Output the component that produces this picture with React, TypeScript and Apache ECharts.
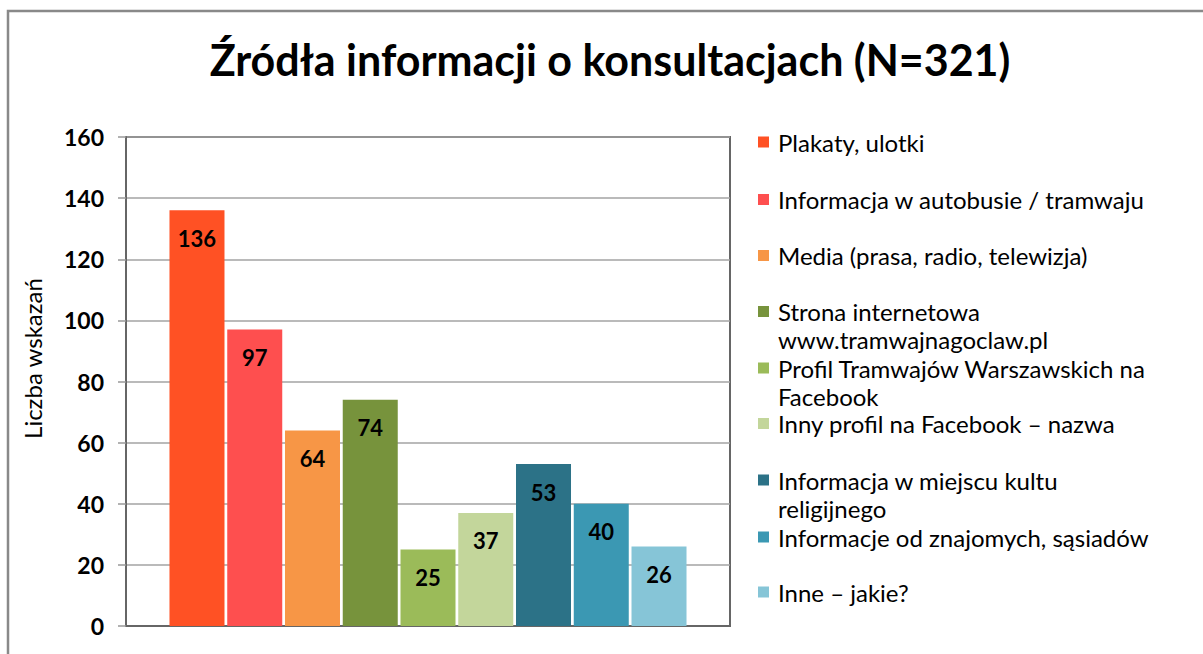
import React, { useEffect, useRef } from "react";
import * as echarts from "echarts";

const TITLE = "Źródła informacji o konsultacjach (N=321)";
const Y_NAME = "Liczba wskazań";
const categories = [
  "Plakaty, ulotki",
  "Informacja w autobusie / tramwaju",
  "Media (prasa, radio, telewizja)",
  "Strona internetowa\nwww.tramwajnagoclaw.pl",
  "Profil Tramwajów Warszawskich na\nFacebook",
  "Inny profil na Facebook – nazwa",
  "Informacja w miejscu kultu\nreligijnego",
  "Informacje od znajomych, sąsiadów",
  "Inne – jakie?",
];
const values = [136, 97, 64, 74, 25, 37, 53, 40, 26];
const colors = [
  "#FF5124",
  "#FE4F4F",
  "#F79646",
  "#77933C",
  "#9BBB59",
  "#C3D69B",
  "#2C7287",
  "#3B98B3",
  "#86C5D7",
];
const Y_MIN = 0;
const Y_MAX = 160;
const Y_STEP = 20;

// layout of the legend rows (centre of first text line, page px)
const legendRowY = [142, 199.5, 255.5, 311.5, 368, 423.5, 480, 537, 592];
const FONT = "Lato, 'Open Sans', sans-serif";
const LINE_H = 28;
const SQ = 11;
// square marker aligned with the first of two text lines
const TWO_LINE_H = LINE_H + SQ;
const TWO_LINE_ICON = `path://M0,0H${SQ}V${SQ}H0ZM0,${TWO_LINE_H}L${SQ},${TWO_LINE_H}`;

export default function App() {
  const ref = useRef<HTMLDivElement>(null);
  useEffect(() => {
    if (!ref.current) return;
    const chart = echarts.init(ref.current, null, { renderer: "svg" });
    const legends = categories.map((name, i) => {
      const lines = name.split("\n").length;
      return {
        show: true,
        orient: "vertical",
        left: 758,
        top: legendRowY[i] - LINE_H / 2,
        padding: 0,
        itemWidth: SQ,
        itemHeight: lines > 1 ? TWO_LINE_H : SQ,
        icon: lines > 1 ? TWO_LINE_ICON : "rect",
        selectedMode: false,
        data: [name],
        textStyle: {
          fontFamily: FONT,
          fontSize: 24,
          color: "#000",
          lineHeight: LINE_H,
          padding: [0, 0, 0, 4],
        },
      };
    });
    chart.setOption({
      animation: false,
      backgroundColor: "#fff",
      title: {
        text: TITLE,
        left: 605,
        textAlign: "center",
        top: 33,
        textStyle: {
          fontFamily: FONT,
          fontSize: 43,
          fontWeight: "bold",
          color: "#000",
        },
      },
      graphic: [
        {
          type: "rect",
          shape: { x: 8, y: 11, width: 1400, height: 900 },
          style: { fill: "none", stroke: "#898989", lineWidth: 2.5 },
          silent: true,
        },
      ],
      legend: legends,
      grid: {
        left: 126,
        top: 137,
        width: 604,
        height: 489,
        show: true,
        borderColor: "#666",
        borderWidth: 2,
        backgroundColor: "transparent",
      },
      xAxis: {
        type: "category",
        data: [""],
        axisLine: { show: true, lineStyle: { color: "#666", width: 2 } },
        axisTick: { show: false },
        axisLabel: { show: false },
      },
      yAxis: {
        type: "value",
        min: Y_MIN,
        max: Y_MAX,
        interval: Y_STEP,
        name: Y_NAME,
        nameLocation: "middle",
        nameGap: 82,
        nameRotate: 90,
        nameTextStyle: {
          fontFamily: FONT,
          fontSize: 24,
          color: "#000",
          padding: [0, 0, 0, 46],
        },
        axisLine: { show: true, lineStyle: { color: "#666", width: 2 } },
        axisTick: { show: true, length: 8, lineStyle: { color: "#999", width: 1.5 } },
        splitLine: { show: true, lineStyle: { color: "#a3a3a3", width: 1.5 } },
        axisLabel: {
          fontFamily: FONT,
          fontSize: 23,
          fontWeight: "bold",
          color: "#000",
          margin: 22,
        },
      },
      series: categories.map((name, i) => ({
        type: "bar",
        name,
        data: [values[i]],
        barGap: "5%",
        barCategoryGap: "14.4%",
        itemStyle: { color: colors[i] },
        label: {
          show: true,
          position: "insideTop",
          distance: 17,
          fontFamily: FONT,
          fontSize: 22,
          fontWeight: "bold",
          color: "#000",
        },
      })),
    });
    return () => chart.dispose();
  }, []);
  return (
    <div
      ref={ref}
      style={{ position: "absolute", left: 0, top: 0, width: 1203, height: 654 }}
    />
  );
}
